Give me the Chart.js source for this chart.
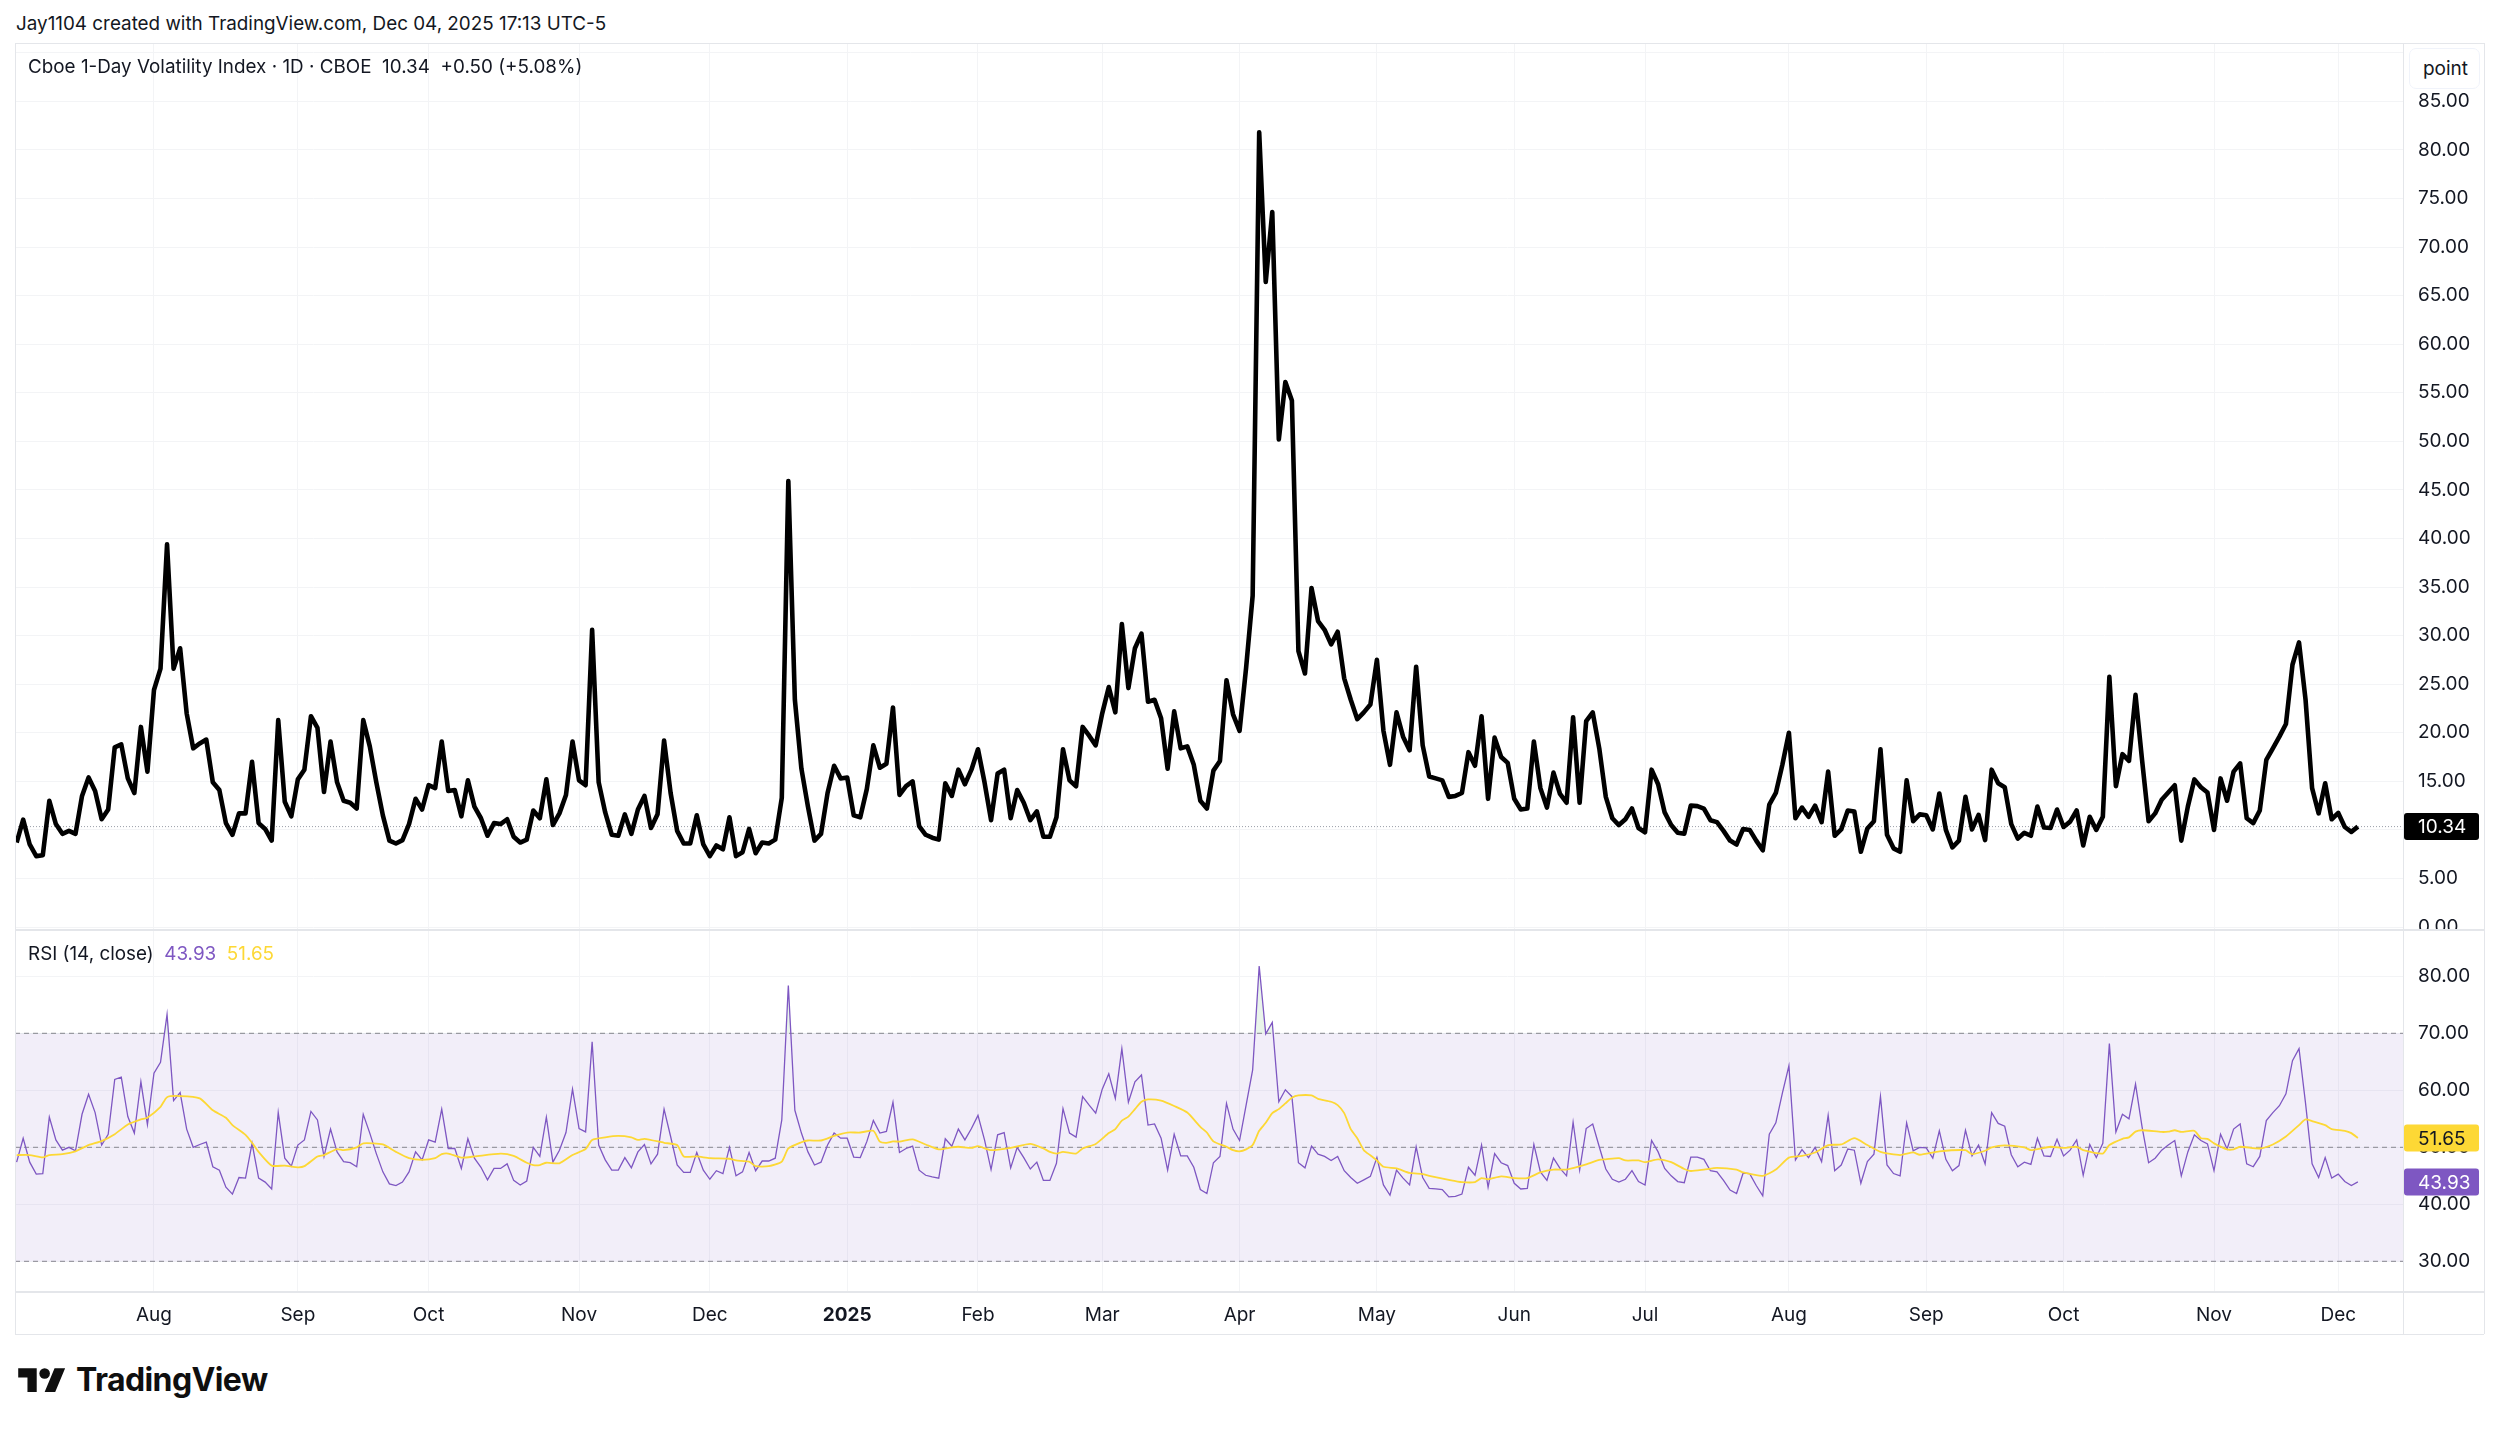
<!DOCTYPE html>
<html>
<head>
<meta charset="utf-8">
<title>VIX1D</title>
<script src="https://cdn.jsdelivr.net/npm/chart.js@4/dist/chart.umd.min.js"></script>
<style>
  html, body { margin: 0; padding: 0; background: #fff; }
  body { position: relative; width: 2500px; height: 1429px; overflow: hidden; font-family: Inter, sans-serif; color: #131722; }
  canvas { position: absolute; left: 15px; }
  #priceCanvas { top: 43px; }
  #rsiCanvas { top: 929px; }
  .txt { position: absolute; white-space: pre; line-height: 1; }
  .line { position: absolute; background: #e4e6ea; }
  #attribution { left: 16px; top: 15px; font-size: 18.85px; }
  #legend { left: 28px; top: 58px; font-size: 18.85px; }
  #rsiLegend { left: 28px; top: 945px; font-size: 18.85px; }
  #unitBox { position: absolute; left: 2409px; top: 48px; width: 71px; height: 41px; box-sizing: border-box; border: 1px solid #f0f3fa; border-radius: 7px; background: #fff; text-align: right; padding: 10px 11px 0 0; font-size: 19px; line-height: 1; }
  #logoText { left: 76px; top: 1364px; font-size: 32px; font-weight: 700; letter-spacing: -0.6px; color: #0f0f0f; }
  #logo { position: absolute; left: 18px; top: 1363px; }
</style>
</head>
<body>
<canvas id="priceCanvas" width="2469" height="886"></canvas>
<canvas id="rsiCanvas" width="2469" height="405"></canvas>

<!-- frame -->
<div class="line" style="left:15px;top:43px;width:2469px;height:1px"></div>
<div class="line" style="left:15px;top:929px;width:2469px;height:2px"></div>
<div class="line" style="left:15px;top:1291px;width:2469px;height:2px"></div>
<div class="line" style="left:15px;top:1334px;width:2469px;height:1px"></div>
<div class="line" style="left:15px;top:43px;width:1px;height:1291px"></div>
<div class="line" style="left:2403px;top:43px;width:1px;height:1291px"></div>
<div class="line" style="left:2484px;top:43px;width:1px;height:1291px"></div>

<div class="txt" id="attribution">Jay1104 created with TradingView.com, Dec 04, 2025 17:13 UTC-5</div>
<div class="txt" id="legend">Cboe 1-Day Volatility Index · 1D · CBOE  10.34  +0.50 (+5.08%)</div>
<div class="txt" id="rsiLegend">RSI (14, close)  <span style="color:#7E57C2">43.93</span>  <span style="color:#FDD835">51.65</span></div>
<div id="unitBox">point</div>

<svg id="logo" width="48" height="37" viewBox="0 0 36 28"><path fill="#0f0f0f" d="M14 22H7V11H0V4h14v18zM28 22h-8l7.5-18h8L28 22z"/><circle fill="#0f0f0f" cx="20" cy="8" r="4"/></svg>
<div class="txt" id="logoText">TradingView</div>

<script>
// ---------- Data ----------
const monthTickBars = [21, 43, 63, 86, 106, 127, 147, 166, 187, 208, 229, 249, 271, 292, 313, 336, 355];
const monthLabels = ["Aug", "Sep", "Oct", "Nov", "Dec", "2025", "Feb", "Mar", "Apr", "May", "Jun", "Jul", "Aug", "Sep", "Oct", "Nov", "Dec"];
const priceTicks = [0, 5, 10, 15, 20, 25, 30, 35, 40, 45, 50, 55, 60, 65, 70, 75, 80, 85, 90];
const rsiTicks = [30, 40, 50, 60, 70, 80];
const rsiBandLevels = [70, 50, 30];

const vixClose = [
  8.7, 11.05, 8.5, 7.3, 7.4, 13, 10.6, 9.6, 9.9, 9.6,
  13.5, 15.4, 14, 11.1, 12.1, 18.5, 18.8, 15.3, 13.8, 20.6,
  16, 24.4, 26.6, 39.4, 26.6, 28.7, 22, 18.4, 18.9, 19.3,
  14.9, 14.1, 10.7, 9.5, 11.7, 11.7, 17, 10.7, 10.1, 8.9,
  21.3, 12.9, 11.4, 15.2, 16.2, 21.7, 20.5, 13.9, 19.1, 14.9,
  13, 12.8, 12.2, 21.3, 18.6, 14.9, 11.5, 8.9, 8.6, 8.95,
  10.6, 13.2, 12.1, 14.6, 14.3, 19.1, 14, 14.1, 11.4, 15.1,
  12.4, 11.2, 9.4, 10.7, 10.6, 11.1, 9.3, 8.7, 9, 12,
  11.2, 15.2, 10.5, 11.7, 13.6, 19.1, 15.1, 14.6, 30.6, 14.9,
  11.8, 9.5, 9.4,
  11.6, 9.6, 12.1, 13.5, 10.2, 11.6, 19.2, 13.8, 9.9, 8.6,
  8.6, 11.5, 8.5, 7.3, 8.4, 8, 11.3, 7.3, 7.7, 10.1,
  7.6, 8.7, 8.6, 9, 13.3, 45.9, 23.4, 16.3, 12.4, 8.9,
  9.6, 13.8, 16.6, 15.3, 15.4, 11.5, 11.3, 14.2, 18.7, 16.4,
  16.8, 22.6, 13.6, 14.5, 15, 10.4, 9.5, 9.2, 9, 14.8,
  13.5, 16.2, 14.7, 16.2, 18.3, 14.9, 11, 15.8, 16.2, 11.2,
  14.1, 12.8, 11, 11.9, 9.3, 9.3, 11.3, 18.3, 15.1, 14.5,
  20.6, 19.7, 18.7, 22, 24.7, 22.1, 31.2, 24.6, 28.7, 30.2,
  23.2, 23.4, 21.5, 16.3, 22.2, 18.4, 18.6, 16.7, 13, 12.2,
  16.1, 17.1, 25.4, 21.9, 20.2, 26.7, 34.1, 81.8, 66.4, 73.6,
  50.2, 56.1, 54.2, 28.4, 26.1, 34.9, 31.5, 30.6, 29.1, 30.4,
  25.6, 23.4, 21.4, 22.1, 22.9, 27.5, 20.2, 16.7, 22.1, 19.6,
  18.2, 26.8, 18.7, 15.5, 15.3, 15.1, 13.4, 13.5, 13.8, 18,
  16.6, 21.7, 13.2, 19.5, 17.5, 16.9, 13.2, 12.1, 12.2, 19.1,
  14.3, 12.3, 15.9, 13.7, 12.8, 21.6, 12.8, 21.2, 22.1, 18.4,
  13.4, 11.2, 10.5, 11.1, 12.2, 10.2, 9.75, 16.2, 14.7, 11.8,
  10.5, 9.7, 9.6, 12.5, 12.45, 12.2, 11, 10.8, 9.9, 8.9,
  8.5, 10.1, 10, 8.9, 7.9, 12.6, 13.8, 16.7, 20, 11.2,
  12.3, 11.35, 12.5, 10.8, 16, 9.4, 10.05, 12, 11.9, 7.75,
  10.15, 10.9, 18.3, 9.5, 8.1, 7.75, 15.1, 10.9, 11.6, 11.5,
  10.05, 13.75, 10, 8.2, 8.9, 13.4, 10.05, 11.55, 8.95, 16.2,
  14.8, 14.4, 10.6, 9.1, 9.7, 9.4, 12.4, 10.25, 10.2, 12.1,
  10.3, 10.85, 12, 8.4, 11.35, 10, 11.35, 25.75, 14.5, 17.8,
  17.1, 23.9, 17.2, 10.9, 11.7, 13.1, 13.85, 14.6, 8.9, 12.4,
  15.2, 14.4, 13.85, 10, 15.3, 13, 16, 16.85, 11.2, 10.7,
  12, 17.2, 18.4, 19.6, 20.9, 27, 29.3, 23.4, 14.3, 11.7,
  14.8, 11.1, 11.75, 10.3, 9.8, 10.34
];

const rsiValues = [
  47.4, 51.6, 47.4, 45.3, 45.4, 55.3, 51.3, 49.5, 50, 49.4,
  55.8, 59.3, 56.1, 50.4, 52.3, 61.9, 62.3, 55.4, 52.5, 61.5,
  54, 63, 64.9, 73.3, 58.2, 59.6, 53.2, 50, 50.5, 50.9,
  46.6, 46, 43, 41.8, 44.7, 44.6, 50.7, 44.6, 43.9, 42.7,
  56.1, 48.1, 46.7, 50.4, 51.3, 56.3, 54.8, 48.4, 53.2, 49.2,
  47.5, 47.3, 46.6, 55.8, 52.5, 48.9, 45.7, 43.6, 43.3, 43.9,
  45.7, 49.2, 47.8, 51.3, 50.9, 56.7, 49.8, 49.8, 46.3, 51.5,
  48.1, 46.5, 44.3, 46.3, 46.3, 47.1, 44.2, 43.4, 44.1, 50,
  48.4, 55.3, 47.4, 49.5, 52.6, 60.2, 53.3, 52.7, 68.5, 50.4,
  47.8, 46, 46, 48.2, 46.4, 49.2, 50.5, 47.1, 48.8, 56.7,
  51.9, 46.9, 45.6, 45.6, 49.1, 46, 44.4, 45.9, 45.4, 50,
  45, 45.7, 49.1, 45.9, 47.6, 47.6, 48.1, 54.8, 78.4, 56.5,
  52.5, 49.2, 46.9, 47.4, 50.4, 52.5, 51.6, 51.6, 48.3, 48.2,
  51, 54.7, 52.5, 52.8, 57.9, 49.1, 49.8, 50.2, 46, 45.1,
  44.8, 44.6, 51.5, 50.2, 53.2, 51.3, 53.3, 55.6, 51.3, 46.1,
  52.2, 52.6, 46.4, 50, 48.2, 46.2, 47.4, 44.2, 44.2, 47.2,
  56.8, 52.5, 51.8, 58.9, 57.4, 56, 60.2, 62.9, 58.6, 67.3,
  57.9, 61.5, 62.7, 53.9, 54.1, 51.6, 46, 52.3, 48.5, 48.5,
  46.5, 42.6, 41.9, 47.3, 48.4, 57.7, 53.2, 51.2, 57.4, 63.6,
  81.8, 69.9, 71.9, 58, 60.1, 58.9, 47.3, 46.4, 50.2, 48.8,
  48.4, 47.7, 48.4, 45.9, 44.7, 43.7, 44.3, 44.9, 48.2, 43.4,
  41.6, 46, 44.6, 43.4, 50.1, 44.7, 42.8, 42.7, 42.6, 41.3,
  41.4, 41.8, 46.5, 45.1, 50.4, 43, 48.9, 47.3, 46.8, 43.7,
  42.7, 42.8, 50.5, 45.7, 44.2, 48.1, 46.3, 45, 54.4, 46,
  53.3, 54.1, 50.1, 46.2, 44.4, 43.9, 44.4, 45.9, 44, 43.4,
  51.2, 49.2, 46.3, 45, 44, 43.8, 48.3, 48.3, 47.9, 45.9,
  45.7, 44.2, 42.5, 41.9, 45.5, 45.4, 43.3, 41.5, 52.3, 54.3,
  59.5, 64.3, 47.8, 49.6, 48.2, 50, 47.5, 55.6, 45.9, 46.9,
  49.7, 49.5, 43.7, 47.5, 48.8, 58.9, 46.9, 45.4, 45, 54.3,
  49.4, 50, 49.9, 48.1, 52.9, 47.9, 45.9, 46.8, 53, 48.5,
  50.4, 47.1, 56.1, 54.2, 53.7, 48.7, 46.6, 47.4, 47, 51.6,
  48.5, 48.4, 51.4, 48.5, 49.5, 51.3, 45.1, 50.5, 48.2, 50.7,
  68.2, 52.7, 55.8, 55, 61.1, 53.6, 47.3, 48.1, 49.5, 50.4,
  51.2, 45, 49.2, 52.2, 51.2, 50.6, 45.9, 52.3, 49.7, 53.2,
  54.1, 47.1, 46.6, 48.4, 54.7, 56.1, 57.3, 59.4, 65.2, 67.3,
  57.7, 47.1, 44.7, 48.2, 44.6, 45.3, 44, 43.3, 43.93
];

// the yellow average is smooth, so it is read at its visible bends only
const rsiMaBars = [
  0, 2, 4, 5, 7, 9, 11, 13, 15, 17, 19, 20, 22, 23, 25, 28, 30, 32, 33, 35,
  36, 37, 39, 41, 43, 44, 46, 47, 49, 50, 52, 53, 56, 58, 60, 62, 64, 65, 66, 68,
  70, 74, 76, 78, 79, 80, 81, 83, 85, 87, 88, 90, 92, 94, 95, 96, 99, 101, 102, 104,
  106, 109, 110, 112, 113, 115, 117, 118, 120, 121, 123, 125, 127, 129, 131, 132, 133, 134, 135, 137,
  139, 141, 143, 144, 146, 147, 149, 152, 155, 157, 158, 159, 160, 162, 163, 165, 167, 168, 169, 170,
  171, 172, 173, 175, 177, 179, 181, 182, 183, 185, 186, 187, 188, 189, 190, 191, 192, 193, 194, 195,
  196, 198, 199, 201, 202, 203, 204, 205, 206, 207, 208, 209, 211, 213, 215, 216, 219, 221, 223, 224,
  225, 227, 229, 231, 233, 235, 237, 240, 242, 243, 245, 246, 248, 249, 251, 253, 255, 256, 258, 260,
  263, 264, 267, 269, 271, 273, 275, 277, 279, 281, 283, 285, 288, 290, 291, 294, 298, 299, 301, 302,
  304, 307, 308, 311, 313, 315, 316, 319, 320, 322, 323, 324, 325, 328, 329, 330, 331, 333, 334, 335,
  336, 338, 339, 340, 343, 345, 347, 349, 350, 351, 353, 354, 356, 357, 358
];
const rsiMaValues = [
  48.65, 48.65, 48.25, 48.65, 48.8, 49.3, 50.4, 51.1, 52.3, 54, 54.9, 55.2, 57.1, 58.8, 59, 58.6, 56.5, 55.2, 53.9, 52.2,
  50.8, 49.2, 46.8, 46.8, 46.5, 46.7, 48.4, 48.65, 49.7, 49.5, 50, 50.7, 50.5, 49.2, 48.1, 47.8, 48.1, 48.8, 48.9, 48.2,
  48.4, 48.9, 48.5, 47.3, 46.9, 46.9, 47.3, 47.2, 48.65, 49.7, 51.3, 51.75, 52, 51.75, 51.3, 51.5, 50.8, 50.4, 48.4, 48.4,
  48.1, 48, 47.7, 47.5, 46.7, 46.7, 47.5, 49.8, 50.9, 51.2, 51.2, 52, 52.6, 52.6, 52.9, 51, 50.8, 51.05, 51, 51.4,
  50.5, 49.65, 50, 50.1, 49.9, 50.2, 49.5, 49.9, 50.6, 49.8, 49.2, 48.9, 49.2, 48.9, 49.8, 50.6, 52.5, 53.2, 54.7, 55.4,
  56.7, 58, 58.4, 58.2, 57.25, 56.1, 53.6, 52.6, 51.05, 50.1, 49.5, 49.3, 49.65, 50.4, 52.9, 54.3, 56, 56.7, 57.7, 58.7,
  59.1, 59.1, 58.5, 58, 57.4, 56, 53.2, 51.6, 49.5, 48.6, 47.7, 46.6, 46.3, 45.5, 45.3, 45, 44.3, 43.9, 43.9, 44.6,
  44.4, 44.9, 44.6, 44.6, 45.6, 46.1, 46.1, 47, 47.8, 47.9, 48.1, 47.7, 47.7, 47.4, 47.9, 47.4, 46.2, 45.85, 46.1, 46.4,
  46.1, 45.6, 45, 46.1, 48.2, 48.5, 49.1, 50.4, 50.5, 51.6, 50.4, 49.2, 48.65, 49.1, 48.7, 49.3, 49.5, 48.8, 49.4, 50,
  50.35, 50, 49.5, 50.1, 49.9, 50.1, 49.5, 48.9, 50.4, 51.5, 51.75, 52.75, 53, 52.7, 52.75, 53, 52.7, 52.9, 51.6, 51.5,
  50.7, 49.65, 49.65, 50.1, 49.8, 50.5, 51.9, 53.9, 54.9, 54.6, 53.9, 53.2, 52.9, 52.5, 51.65
];

// ---------- Styles ----------
const GRID = "#f3f4f6";
const AXIS_TEXT = "#131722";
const PURPLE = "#7E57C2";
const YELLOW = "#FDD835";
const AXIS_WIDTH = 81;
const BAR_MIN = -0.25;
const BAR_MAX = 364.9;
const tickFont = { family: "Inter", size: 19 };

// no half-label margins, the plot has to fill its pane
function clearPadding(scale) {
  scale.paddingTop = 0;
  scale.paddingBottom = 0;
  scale.paddingLeft = 0;
  scale.paddingRight = 0;
}

function valueAxis(min, max, ticks) {
  return {
    position: "right",
    min,
    max,
    afterBuildTicks: (s) => { s.ticks = ticks.map((v) => ({ value: v })); },
    afterFit: (s) => { s.width = AXIS_WIDTH; clearPadding(s); },
    border: { display: false },
    grid: { color: GRID, lineWidth: 1, drawTicks: false },
    ticks: {
      color: AXIS_TEXT,
      font: tickFont,
      padding: 15,
      autoSkip: false,
      callback: (v) => (v === 90 ? "" : v.toFixed(2)),
    },
  };
}

function timeAxis(showLabels, height) {
  return {
    type: "linear",
    min: BAR_MIN,
    max: BAR_MAX,
    afterBuildTicks: (s) => { s.ticks = monthTickBars.map((v) => ({ value: v })); },
    afterFit: (s) => { s.height = height; clearPadding(s); },
    border: { display: false },
    grid: { color: GRID, lineWidth: 1, drawTicks: false },
    ticks: {
      display: showLabels,
      color: AXIS_TEXT,
      padding: 13,
      autoSkip: false,
      maxRotation: 0,
      font: (ctx) => (ctx.tick && ctx.tick.value === 127
        ? { family: "Inter", size: 19, weight: "700" }
        : tickFont),
      callback: (v) => monthLabels[monthTickBars.indexOf(v)],
    },
  };
}

// coloured value tag on the right axis, placed through the scale
function drawTag(chart, value, bg, fg) {
  const { ctx, scales, chartArea } = chart;
  const y = scales.y.getPixelForValue(value);
  ctx.save();
  ctx.fillStyle = bg;
  ctx.beginPath();
  ctx.roundRect(chartArea.right + 1, y - 13.5, 75, 27, 3);
  ctx.fill();
  ctx.fillStyle = fg;
  ctx.font = "19px Inter";
  ctx.textAlign = "left";
  ctx.textBaseline = "middle";
  ctx.fillText(value.toFixed(2), chartArea.right + 15, y + 1);
  ctx.restore();
}

// ---------- Price pane ----------
const lastPriceLine = {
  id: "lastPriceLine",
  beforeDatasetsDraw(chart) {
    const { ctx, scales, chartArea } = chart;
    const y = scales.y.getPixelForValue(vixClose[vixClose.length - 1]);
    ctx.save();
    ctx.strokeStyle = "#9a9ea8";
    ctx.lineWidth = 1;
    ctx.setLineDash([1, 2]);
    ctx.beginPath();
    ctx.moveTo(chartArea.left, y);
    ctx.lineTo(chartArea.right, y);
    ctx.stroke();
    ctx.restore();
  },
  afterDraw(chart) {
    drawTag(chart, vixClose[vixClose.length - 1], "#000000", "#ffffff");
  },
};

new Chart(document.getElementById("priceCanvas"), {
  type: "line",
  data: {
    datasets: [{
      data: vixClose.map((y, x) => ({ x, y })),
      borderColor: "#000000",
      borderWidth: 4.6,
      borderJoinStyle: "round",
      pointRadius: 0,
      tension: 0,
    }],
  },
  options: {
    responsive: false,
    animation: false,
    devicePixelRatio: 1,
    layout: { padding: 0 },
    plugins: { legend: { display: false }, tooltip: { enabled: false } },
    scales: {
      x: timeAxis(false, 0),
      y: valueAxis(-0.2, 91, priceTicks),
    },
  },
  plugins: [lastPriceLine],
});

// ---------- RSI pane ----------
const rsiBand = {
  id: "rsiBand",
  beforeDatasetsDraw(chart) {
    const { ctx, scales, chartArea } = chart;
    const yLevels = rsiBandLevels.map((v) => scales.y.getPixelForValue(v));
    ctx.save();
    ctx.fillStyle = "rgba(126,87,194,0.1)";
    ctx.fillRect(chartArea.left, yLevels[0], chartArea.width, yLevels[2] - yLevels[0]);
    ctx.strokeStyle = "#9b9aa3";
    ctx.lineWidth = 1.2;
    ctx.setLineDash([5, 4]);
    yLevels.forEach((y) => {
      ctx.beginPath();
      ctx.moveTo(chartArea.left, y);
      ctx.lineTo(chartArea.right, y);
      ctx.stroke();
    });
    ctx.restore();
  },
  afterDraw(chart) {
    drawTag(chart, rsiMaValues[rsiMaValues.length - 1], YELLOW, AXIS_TEXT);
    drawTag(chart, rsiValues[rsiValues.length - 1], PURPLE, "#ffffff");
  },
};

new Chart(document.getElementById("rsiCanvas"), {
  type: "line",
  data: {
    datasets: [
      {
        data: rsiValues.map((y, x) => ({ x, y })),
        borderColor: PURPLE,
        borderWidth: 1.3,
        pointRadius: 0,
        tension: 0,
        order: 2,
        fill: { target: { value: 70 }, above: "rgba(76,175,80,0.12)", below: "rgba(0,0,0,0)" },
      },
      {
        data: rsiMaBars.map((x, i) => ({ x, y: rsiMaValues[i] })),
        borderColor: YELLOW,
        borderWidth: 1.8,
        pointRadius: 0,
        tension: 0.2,
        order: 1,
      },
    ],
  },
  options: {
    responsive: false,
    animation: false,
    devicePixelRatio: 1,
    layout: { padding: 0 },
    plugins: { legend: { display: false }, tooltip: { enabled: false } },
    scales: {
      x: timeAxis(true, 43),
      y: valueAxis(24.8, 88.3, rsiTicks),
    },
  },
  plugins: [rsiBand],
});
</script>
</body>
</html>
